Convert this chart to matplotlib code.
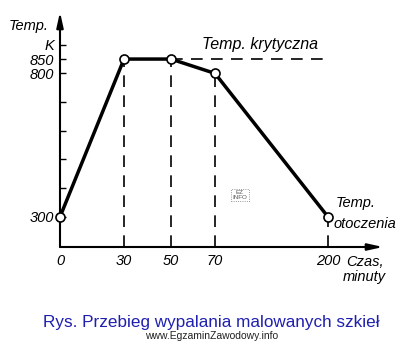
import numpy as np
import matplotlib
matplotlib.use("Agg")
import matplotlib.pyplot as plt

# firing schedule: time [min] vs temperature [K]
time_min = [0, 30, 50, 70, 200]
temp_k = [300, 850, 850, 800, 300]
critical_temp = 850
critical_end = 202

x_ticks = [0, 30, 50, 70, 200]
x_tick_labels = ["0", "30", "50", "70", "200"]
y_ticks = [300, 400, 500, 600, 700, 800, 850, 900]
y_tick_labels = ["300", "", "", "", "", "800", "850", "K"]

caption = "Rys. Przebieg wypalania malowanych szkieł"
source = "www.EgzaminZawodowy.info"

# schematic (non-proportional) time axis
time_knots = [0, 30, 50, 70, 200, 264]
pos_knots = [0, 64, 111, 155, 268, 323]


def forward(x):
    return np.interp(x, time_knots, pos_knots)


def inverse(p):
    return np.interp(p, pos_knots, time_knots)


plt.rcParams["font.family"] = ["Liberation Sans", "DejaVu Sans"]
fs = 10.5

fig = plt.figure(figsize=(4.13, 3.44), dpi=100)
ax = fig.add_axes([60 / 413, 97 / 344, 323 / 413, 235 / 344])
ax.set_xscale("function", functions=(forward, inverse))
ax.set_xlim(0, 264)
ax.set_ylim(195, 1014)

for s in ax.spines.values():
    s.set_visible(False)

# axes with arrowheads
arrow = dict(arrowstyle="-|>,head_length=0.9,head_width=0.2", color="black", lw=1.5,
             shrinkA=0, shrinkB=0)
ax.annotate("", xy=(1, 0), xytext=(0, 0), xycoords="axes fraction", arrowprops=arrow)
ax.annotate("", xy=(0, 1), xytext=(0, 0), xycoords="axes fraction", arrowprops=arrow)

ax.set_xticks(x_ticks)
ax.set_xticklabels(x_tick_labels, fontstyle="italic", fontsize=fs)
ax.tick_params(axis="x", length=0, pad=5)
ax.set_yticks(y_ticks)
ax.set_yticklabels(y_tick_labels, fontstyle="italic", fontsize=fs)
ax.tick_params(axis="y", direction="in", length=4, width=1, pad=4)
ax.minorticks_off()

# dashed drop lines and the critical temperature line
for t, v in zip(time_min[1:], temp_k[1:]):
    ax.plot([t, t], [195, v], color="black", lw=1.2, ls=(0, (7, 5)))
ax.plot([time_min[2], critical_end], [critical_temp, critical_temp],
        color="black", lw=1.2, ls=(0, (7, 5)))

ax.plot(time_min, temp_k, color="black", lw=2.5, zorder=3)
ax.plot(time_min, temp_k, ls="none", marker="o", ms=6.5, mfc="white",
        mec="black", mew=1.2, zorder=4, clip_on=False)

fig.text(29 / 413, 1 - 26 / 344, "Temp.", ha="center", va="center",
         fontsize=fs, fontstyle="italic")
fig.text(260 / 413, 1 - 45 / 344, "Temp. krytyczna", ha="center", va="center",
         fontsize=11.5, fontstyle="italic")
fig.text(336 / 413, 1 - 203 / 344, "Temp.", ha="left", va="center",
         fontsize=fs, fontstyle="italic")
fig.text(334 / 413, 1 - 224 / 344, "otoczenia", ha="left", va="center",
         fontsize=fs, fontstyle="italic")
fig.text(346 / 413, 1 - 262 / 344, "Czas,", ha="left", va="center",
         fontsize=fs, fontstyle="italic")
fig.text(343 / 413, 1 - 277 / 344, "minuty", ha="left", va="center",
         fontsize=fs, fontstyle="italic")

# small watermark box
fig.text(240 / 413, 1 - 195 / 344, "EZ\nINFO", ha="center", va="center",
         fontsize=4.5, color="#555555", linespacing=1.0,
         bbox=dict(boxstyle="square,pad=0.2", fc="white", ec="#777777",
                   lw=0.6, ls=":"))

fig.text(211 / 413, 1 - 322 / 344, caption, ha="center", va="center",
         fontsize=12.3, color="#1f1fb0")
fig.text(212 / 413, 1 - 336 / 344, source, ha="center", va="center",
         fontsize=7.5, color="#222222")

fig.savefig("out.png", dpi=100)
